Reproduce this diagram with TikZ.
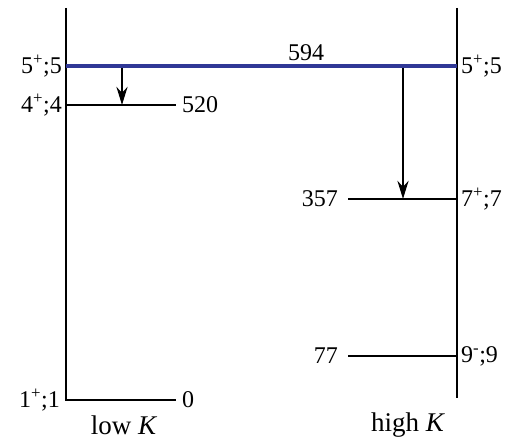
\documentclass[tikz,border=0pt]{standalone}
\usepackage{fontspec}
\setmainfont{Liberation Serif}
\usetikzlibrary{arrows.meta}
\definecolor{bandblue}{RGB}{48,56,150}

\begin{document}
\begin{tikzpicture}[x=1pt, y=1pt, >={Stealth[length=18pt,width=11pt]},
    font=\fontsize{24}{28}\selectfont,
    level/.style={line width=2.8pt},
    isomer/.style={line width=4.2pt, bandblue},
    trans/.style={->, line width=2.8pt},
    bandname/.style={font=\fontsize{27}{30}\selectfont}]
  \useasboundingbox (0,0) rectangle (525,441);
  % band axes
  \coordinate (Ltop) at (66,433);
  \coordinate (Lbot) at (66,41);
  \coordinate (Rtop) at (457,433);
  \coordinate (Rbot) at (457,43);
  % level ends
  \coordinate (iL) at (66,375);   \coordinate (iR) at (457,375);
  \coordinate (aL) at (66,336);   \coordinate (aR) at (176,336);
  \coordinate (bL) at (348,242);  \coordinate (bR) at (457,242);
  \coordinate (cL) at (348,85);   \coordinate (cR) at (457,85);
  \coordinate (gR) at (176,41);
  % arrow ends
  \coordinate (t1s) at (122,373); \coordinate (t1e) at (122,336);
  \coordinate (t2s) at (403,373); \coordinate (t2e) at (403,242);

  \draw[level] (Ltop) -- (Lbot) -- (gR);
  \draw[level] (Rtop) -- (Rbot);
  \draw[level] (aL) -- (aR);
  \draw[level] (bL) -- (bR);
  \draw[level] (cL) -- (cR);
  \draw[isomer] (iL) -- (iR);
  \draw[trans] (t1s) -- (t1e);
  \draw[trans] (t2s) -- (t2e);

  % spin labels
  \node[left, inner sep=4pt] (siL) at (iL) {5\textsuperscript{+};5};
  \node[right, inner sep=4pt] (siR) at (iR) {5\textsuperscript{+};5};
  \node[left, inner sep=4pt] (saL) at (aL) {4\textsuperscript{+};4};
  \node[right, inner sep=4pt] (sbR) at (bR) {7\textsuperscript{+};7};
  \node[right, inner sep=4pt] (scR) at (cR) {9\textsuperscript{-};9};
  \node[left, inner sep=6pt] (sgL) at (Lbot) {1\textsuperscript{+};1};
  % energies
  \node[above] (Ei) at (306,377) {594};
  \node[right, inner sep=6pt] (Ea) at (aR) {520};
  \node[left, inner sep=10pt] (Eb) at (bL) {357};
  \node[left, inner sep=10pt] (Ec) at (cL) {77};
  \node[right, inner sep=6pt] (Eg) at (gR) {0};
  % band names
  \node[bandname] (lowK) at (124,16) {low \textit{K}};
  \node[bandname] (highK) at (408,16) {high \textit{K}};
\end{tikzpicture}
\end{document}
